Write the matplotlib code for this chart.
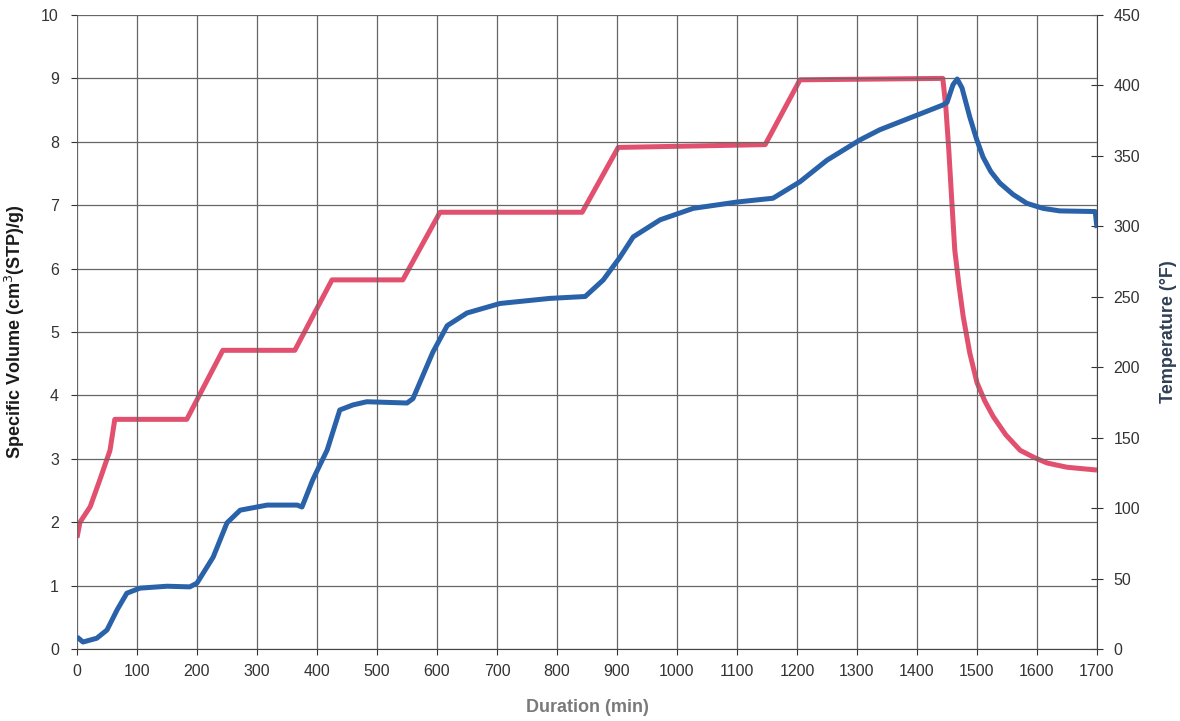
import matplotlib
matplotlib.use("Agg")
import matplotlib.pyplot as plt
import numpy as np

plt.rcParams['font.family'] = ['Liberation Sans', 'DejaVu Sans']

# temperature (red, right axis, degF)
temp_t = [0, 5, 22, 38, 55, 63, 183, 243, 363, 425, 543, 605, 842, 902, 1147, 1205,
          1443, 1448, 1453, 1458, 1463, 1470, 1477, 1488, 1500, 1513, 1527, 1548, 1572,
          1595, 1617, 1650, 1700]
temp_f = [79, 90, 101, 120, 141, 163, 163, 212, 212, 262, 262, 310, 310, 356, 358, 404,
          405, 385, 354, 318, 283, 258, 236, 210, 189, 176, 165, 152, 141, 136, 132, 129, 127]

# specific volume (blue, left axis)
vol_t = [0, 10, 33, 50, 67, 83, 105, 150, 188, 200, 227, 250, 272, 317, 367, 375, 393,
         417, 438, 460, 483, 550, 560, 593, 617, 650, 705, 788, 847, 877, 905, 927, 972,
         1027, 1100, 1160, 1205, 1250, 1305, 1338, 1443, 1450, 1460, 1467, 1475, 1488,
         1499, 1510, 1523, 1538, 1560, 1583, 1610, 1638, 1697, 1700]
vol_v = [0.19, 0.11, 0.17, 0.3, 0.62, 0.88, 0.96, 0.99, 0.98, 1.04, 1.45, 1.99, 2.19,
         2.27, 2.27, 2.24, 2.67, 3.14, 3.77, 3.85, 3.9, 3.88, 3.95, 4.68, 5.1, 5.3, 5.45,
         5.53, 5.56, 5.82, 6.18, 6.5, 6.77, 6.95, 7.05, 7.11, 7.37, 7.71, 8.03, 8.19,
         8.58, 8.62, 8.9, 8.99, 8.85, 8.39, 8.05, 7.76, 7.53, 7.35, 7.17, 7.03, 6.95,
         6.91, 6.9, 6.64]

x_ticks = list(range(0, 1701, 100))
vol_ticks = list(range(0, 11))
temp_ticks = list(range(0, 451, 50))

red = '#E2506F'
blue = '#2A62AA'
grid_c = '#666666'

fig = plt.figure(figsize=(11.8, 7.21), dpi=100)
ax = fig.add_axes([77/1180, 72/721, 1020/1180, 634/721])
ax2 = ax.twinx()

ax.plot(vol_t, vol_v, color=blue, lw=3.6, solid_capstyle='butt', zorder=3)
ax2.plot(temp_t, temp_f, color=red, lw=3.6, solid_capstyle='butt', zorder=2)

ax.set_xlim(0, 1700)
ax.set_ylim(0, 10)
ax2.set_ylim(0, 450)
ax.set_xticks(x_ticks)
ax.set_yticks(vol_ticks)
ax2.set_yticks(temp_ticks)

ax.grid(True, color=grid_c, lw=0.9)
for sp in ['top', 'right', 'left', 'bottom']:
    ax.spines[sp].set_visible(False)
    ax2.spines[sp].set_visible(False)
ax2.spines['right'].set_visible(True)
ax2.spines['right'].set_color('#444444')
ax.spines['bottom'].set_visible(True)
ax.spines['bottom'].set_color('#444444')

ax.tick_params(axis='both', labelsize=11.5, colors='#333333', length=4, width=0.8,
               pad=7)
ax.tick_params(axis='y', pad=9)
ax2.tick_params(axis='y', labelsize=11.5, colors='#333333', direction='inout',
                length=8, width=0.8, pad=8)

ax.set_xlabel('Duration (min)', fontsize=13, fontweight='bold', color='#7a7a7a',
              labelpad=14)
ax.set_ylabel('Specific Volume (cm$^3$(STP)/g)', fontsize=13, fontweight='bold',
              color='#1a1a1a', labelpad=10)
ax2.set_ylabel('Temperature (°F)', fontsize=13, fontweight='bold', color='#2f3f55',
               labelpad=14)

ax.set_zorder(ax2.get_zorder() + 1)
ax.patch.set_visible(False)

fig.savefig('out.png', dpi=100)
